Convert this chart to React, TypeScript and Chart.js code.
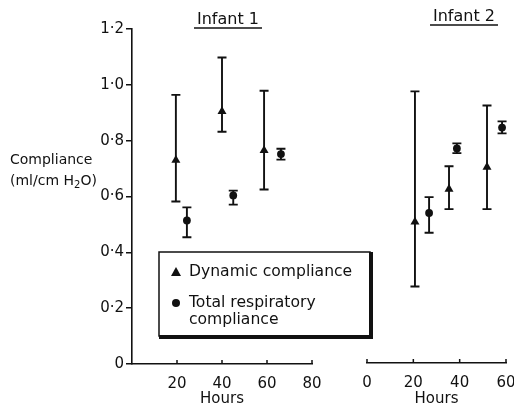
import React, { useEffect, useRef } from 'react';
import { Chart, registerables } from 'chart.js';

Chart.register(...registerables);

const FONT = "'DejaVu Sans', sans-serif";
const INK = '#111';

// ---- Data (hours, mean compliance, lower / upper error bar) ----
const infant1DynHours = [19.5, 40, 58.7];
const infant1DynMean = [0.73, 0.905, 0.765];
const infant1DynLow = [0.582, 0.832, 0.625];
const infant1DynHigh = [0.964, 1.098, 0.979];

const infant1TotHours = [24.4, 45, 66.2];
const infant1TotMean = [0.514, 0.604, 0.752];
const infant1TotLow = [0.454, 0.571, 0.732];
const infant1TotHigh = [0.561, 0.621, 0.771];

const infant2DynHours = [20.7, 35.4, 51.8];
const infant2DynMean = [0.507, 0.625, 0.704];
const infant2DynLow = [0.275, 0.553, 0.553];
const infant2DynHigh = [0.976, 0.707, 0.925];

const infant2TotHours = [26.8, 38.8, 58.3];
const infant2TotMean = [0.539, 0.771, 0.846];
const infant2TotLow = [0.468, 0.754, 0.825];
const infant2TotHigh = [0.596, 0.789, 0.868];

const yTickLabels = ['0', '0·2', '0·4', '0·6', '0·8', '1·0', '1·2'];
const panelTitles = ['Infant 1', 'Infant 2'];
const legendLabels = ['Dynamic compliance', 'Total respiratory', 'compliance'];
const xTitle = 'Hours';

const pts = (h: number[], m: number[], lo: number[], hi: number[]) =>
  h.map((x, i) => ({ x, y: m[i], lo: lo[i], hi: hi[i] }));

const errorBars = {
  id: 'errorBars',
  beforeDatasetsDraw(chart: any) {
    const { ctx, scales } = chart;
    const x = scales.x, y = scales.y;
    ctx.save();
    ctx.strokeStyle = INK;
    ctx.lineWidth = 1.9;
    chart.data.datasets.forEach((ds: any) =>
      ds.data.forEach((p: any) => {
        const px = x.getPixelForValue(p.x);
        const yl = y.getPixelForValue(p.lo);
        const yh = y.getPixelForValue(p.hi);
        ctx.beginPath();
        ctx.moveTo(px, yl);
        ctx.lineTo(px, yh);
        ctx.moveTo(px - 4.5, yl);
        ctx.lineTo(px + 4.5, yl);
        ctx.moveTo(px - 4.5, yh);
        ctx.lineTo(px + 4.5, yh);
        ctx.stroke();
      })
    );
    ctx.restore();
  },
};

const innerTicks = {
  id: 'innerTicks',
  afterDraw(chart: any, _args: any, opts: any) {
    const { ctx, chartArea, scales } = chart;
    const x = scales.x;
    ctx.save();
    ctx.strokeStyle = INK;
    ctx.lineWidth = 1.5;
    x.ticks.forEach((t: any) => {
      if (t.value === 0 && opts && opts.skipZero) return;
      const px = x.getPixelForValue(t.value);
      ctx.beginPath();
      ctx.moveTo(px, chartArea.bottom);
      ctx.lineTo(px, chartArea.bottom - 4);
      ctx.stroke();
    });
    ctx.restore();
  },
};

const annotations = {
  id: 'annotations',
  afterDraw(chart: any, _args: any, opts: any) {
    const { ctx } = chart;
    ctx.save();
    ctx.fillStyle = INK;
    ctx.strokeStyle = INK;
    // panel title with underline
    ctx.font = `16px ${FONT}`;
    ctx.textAlign = 'center';
    ctx.textBaseline = 'middle';
    ctx.fillText(opts.title, opts.titleX, opts.titleY);
    const w = ctx.measureText(opts.title).width;
    ctx.lineWidth = 1.5;
    ctx.beginPath();
    ctx.moveTo(opts.titleX - w / 2 - 3, opts.titleY + 8);
    ctx.lineTo(opts.titleX + w / 2 + 3, opts.titleY + 8);
    ctx.stroke();

    if (opts.withAxisLabel) {
      ctx.textAlign = 'left';
      ctx.font = `14px ${FONT}`;
      ctx.fillText('Compliance', 10, 160);
      let x = 10;
      const base = 181;
      const p1 = '(ml/cm H';
      ctx.fillText(p1, x, base);
      x += ctx.measureText(p1).width;
      ctx.font = `10px ${FONT}`;
      ctx.fillText('2', x, base + 4);
      x += ctx.measureText('2').width;
      ctx.font = `14px ${FONT}`;
      ctx.fillText('O)', x, base);
    }

    if (opts.withLegend) {
      const L = 159, T = 252, R = 370, B = 336;
      ctx.fillStyle = '#fff';
      ctx.fillRect(L, T, R - L, B - T);
      ctx.fillStyle = INK;
      ctx.lineWidth = 1.5;
      ctx.strokeRect(L, T, R - L, B - T);
      ctx.fillRect(R - 1, T, 4, B - T + 3);
      ctx.fillRect(L, B - 1, R - L + 3, 4);
      // markers
      ctx.beginPath();
      ctx.moveTo(176, 267);
      ctx.lineTo(181, 276);
      ctx.lineTo(171, 276);
      ctx.closePath();
      ctx.fill();
      ctx.beginPath();
      ctx.arc(176, 303, 4, 0, Math.PI * 2);
      ctx.fill();
      ctx.font = `15.6px ${FONT}`;
      ctx.textAlign = 'left';
      ctx.textBaseline = 'middle';
      ctx.fillText(legendLabels[0], 189, 272);
      ctx.fillText(legendLabels[1], 189, 303);
      ctx.fillText(legendLabels[2], 189, 320);
    }
    ctx.restore();
  },
};

function makeConfig(panel: number): any {
  const left = panel === 0;
  const dyn = left
    ? pts(infant1DynHours, infant1DynMean, infant1DynLow, infant1DynHigh)
    : pts(infant2DynHours, infant2DynMean, infant2DynLow, infant2DynHigh);
  const tot = left
    ? pts(infant1TotHours, infant1TotMean, infant1TotLow, infant1TotHigh)
    : pts(infant2TotHours, infant2TotMean, infant2TotLow, infant2TotHigh);
  const tickFont = { family: FONT, size: 15 };
  return {
    type: 'scatter',
    data: {
      datasets: [
        {
          label: legendLabels[0],
          data: dyn,
          pointStyle: 'triangle',
          pointRadius: 5.2,
          backgroundColor: INK,
          borderColor: INK,
          borderWidth: 0,
        },
        {
          label: legendLabels[1] + ' ' + legendLabels[2],
          data: tot,
          pointStyle: 'circle',
          pointRadius: 3.9,
          backgroundColor: INK,
          borderColor: INK,
          borderWidth: 0,
        },
      ],
    },
    options: {
      animation: false,
      responsive: false,
      maintainAspectRatio: false,
      layout: {
        padding: left
          ? { left: 0, top: 29, right: 202, bottom: 0 }
          : { left: 367, top: 29, right: 8, bottom: 0 },
      },
      plugins: {
        legend: { display: false },
        tooltip: { enabled: false },
        innerTicks: { skipZero: left },
        annotations: left
          ? { title: panelTitles[0], titleX: 228, titleY: 20, withAxisLabel: true, withLegend: true }
          : { title: panelTitles[1], titleX: 464, titleY: 17, withAxisLabel: false, withLegend: false },
      },
      scales: {
        x: {
          type: 'linear',
          min: 0,
          max: left ? 80 : 60,
          afterFit: (s: any) => {
            s.height = left ? 43 : 44;
            s.paddingLeft = 0;
            s.paddingRight = 0;
          },
          ticks: {
            stepSize: 20,
            callback: (v: number) => (left && v === 0 ? '' : String(v)),
            color: INK,
            font: tickFont,
            padding: 3,
            maxRotation: 0,
          },
          grid: { display: false },
          border: { display: true, color: INK, width: 1.6 },
          title: {
            display: true,
            text: xTitle,
            color: INK,
            font: { family: FONT, size: 15, lineHeight: 1 },
            padding: { top: 0, bottom: 0 },
          },
        },
        y: {
          type: 'linear',
          min: 0,
          max: 1.2,
          display: left,
          afterFit: (s: any) => {
            if (left) s.width = 132;
          },
          ticks: {
            stepSize: 0.2,
            callback: (v: number) => yTickLabels[Math.round(v / 0.2)],
            color: INK,
            font: tickFont,
            padding: 2,
          },
          grid: {
            display: true,
            drawOnChartArea: false,
            drawTicks: true,
            tickLength: 6,
            color: INK,
            lineWidth: 1.5,
          },
          border: { display: true, color: INK, width: 1.6 },
        },
      },
    },
    plugins: [errorBars, innerTicks, annotations],
  };
}

export default function App() {
  const refA = useRef<HTMLCanvasElement>(null);
  const refB = useRef<HTMLCanvasElement>(null);
  useEffect(() => {
    const a = new Chart(refA.current as HTMLCanvasElement, makeConfig(0));
    const b = new Chart(refB.current as HTMLCanvasElement, makeConfig(1));
    return () => {
      a.destroy();
      b.destroy();
    };
  }, []);
  const cs: React.CSSProperties = { position: 'absolute', left: 0, top: 0, width: 514, height: 407 };
  return (
    <div style={{ position: 'fixed', left: 0, top: 0, width: 514, height: 407, background: '#fff' }}>
      <canvas ref={refA} width={514} height={407} style={cs} />
      <canvas ref={refB} width={514} height={407} style={cs} />
    </div>
  );
}
